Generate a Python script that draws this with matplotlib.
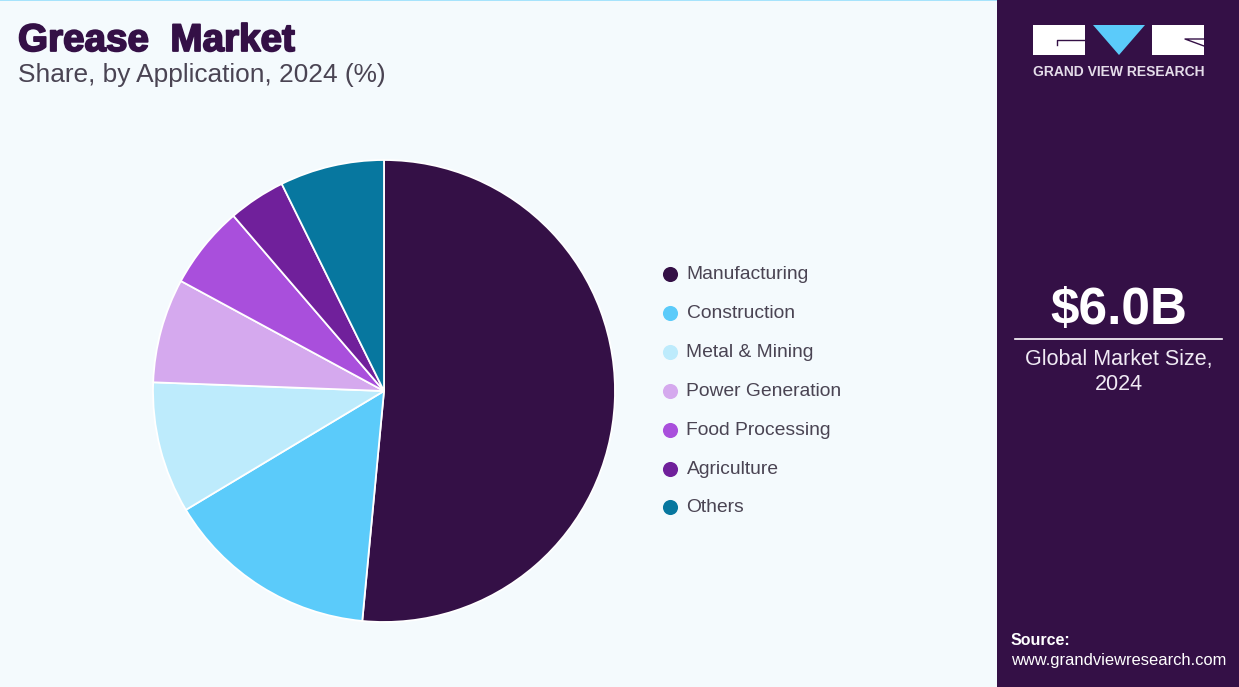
import matplotlib
matplotlib.use("Agg")
import matplotlib.pyplot as plt
import matplotlib.patches as mpatches
import matplotlib.patheffects as pe

# ── data ─────────────────────────────────
CATEGORIES = ["Manufacturing", "Construction", "Metal & Mining", "Power Generation",
              "Food Processing", "Agriculture", "Others"]
SHARES = [51.5, 14.9, 9.2, 7.3, 5.8, 4.0, 7.3]
COLORS = ["#341046", "#5BCBFA", "#BDEBFC", "#D5A9EE", "#A94FDC", "#70209B", "#07779F"]

W, H = 1239, 687
BG = "#F4FAFD"
DARK = "#341046"
GREY = "#4A4453"

plt.rcParams["font.family"] = ["Liberation Sans", "DejaVu Sans"]

fig = plt.figure(figsize=(W / 100, H / 100), dpi=100, facecolor=BG)

# overlay in pixel coordinates
bg = fig.add_axes([0, 0, 1, 1])
bg.set_xlim(0, W)
bg.set_ylim(H, 0)
bg.axis("off")

# top line and side panel
bg.add_patch(mpatches.Rectangle((0, 0), 997, 1.2, color="#A6E3FC", lw=0))
bg.add_patch(mpatches.Rectangle((997, 0), W - 997, H, color=DARK, lw=0))

# title, stroked because the original face is heavier than any bold we have
bg.text(18, 41, "Grease  Market", fontsize=27.8, fontweight="bold", color=DARK, va="center", ha="left",
        path_effects=[pe.withStroke(linewidth=1.3, foreground=DARK)])
bg.text(18, 75, "Share, by Application, 2024 (%)", fontsize=18.9, color=GREY, va="center", ha="left")

# pie
cx, cy, r = 384, 391, 231
ax = fig.add_axes([(cx - r) / W, 1 - (cy + r) / H, 2 * r / W, 2 * r / H])
ax.pie(SHARES, colors=COLORS, startangle=90, counterclock=False, radius=1,
       wedgeprops=dict(edgecolor="white", linewidth=1.3))
ax.set_xlim(-1, 1)
ax.set_ylim(-1, 1)

# legend
for i, (name, col) in enumerate(zip(CATEGORIES, COLORS)):
    y = 274 + i * 38.9
    bg.scatter([670], [y], s=118, color=col, linewidths=0)
    bg.text(686.5, y + 0.5, name, fontsize=13.9, color=GREY, va="center", ha="left")

# logo
bg.add_patch(mpatches.Rectangle((1033, 25), 52, 30, color="white", lw=0))
bg.add_patch(mpatches.Rectangle((1152, 25), 52, 30, color="white", lw=0))
bg.add_patch(mpatches.Polygon([(1093, 25), (1145, 25), (1119, 55)], color="#5BCBFA", lw=0))
bg.plot([1057, 1057, 1085], [45, 40, 40], color=DARK, lw=1)
bg.plot([1204, 1185, 1204], [46, 39, 39], color=DARK, lw=1)
bg.text(1119, 71.5, "GRAND VIEW RESEARCH", fontsize=10, fontweight="bold", color="#E4DCE9",
        va="center", ha="center")

# side panel text
bg.text(1119, 311, "$6.0B", fontsize=37, fontweight="bold", color="white", va="center", ha="center")
bg.plot([1015, 1222], [338.5, 338.5], color="white", lw=1.2)
bg.text(1119, 359, "Global Market Size,", fontsize=15.5, color="#F0EAF4", va="center", ha="center")
bg.text(1119, 385, "2024", fontsize=15.5, color="#F0EAF4", va="center", ha="center")
bg.text(1011, 640.5, "Source:", fontsize=11.5, fontweight="bold", color="white", va="center", ha="left")
bg.text(1011, 661, "www.grandviewresearch.com", fontsize=11.9, color="white", va="center", ha="left")

fig.savefig("out.png", dpi=100, facecolor=BG)
